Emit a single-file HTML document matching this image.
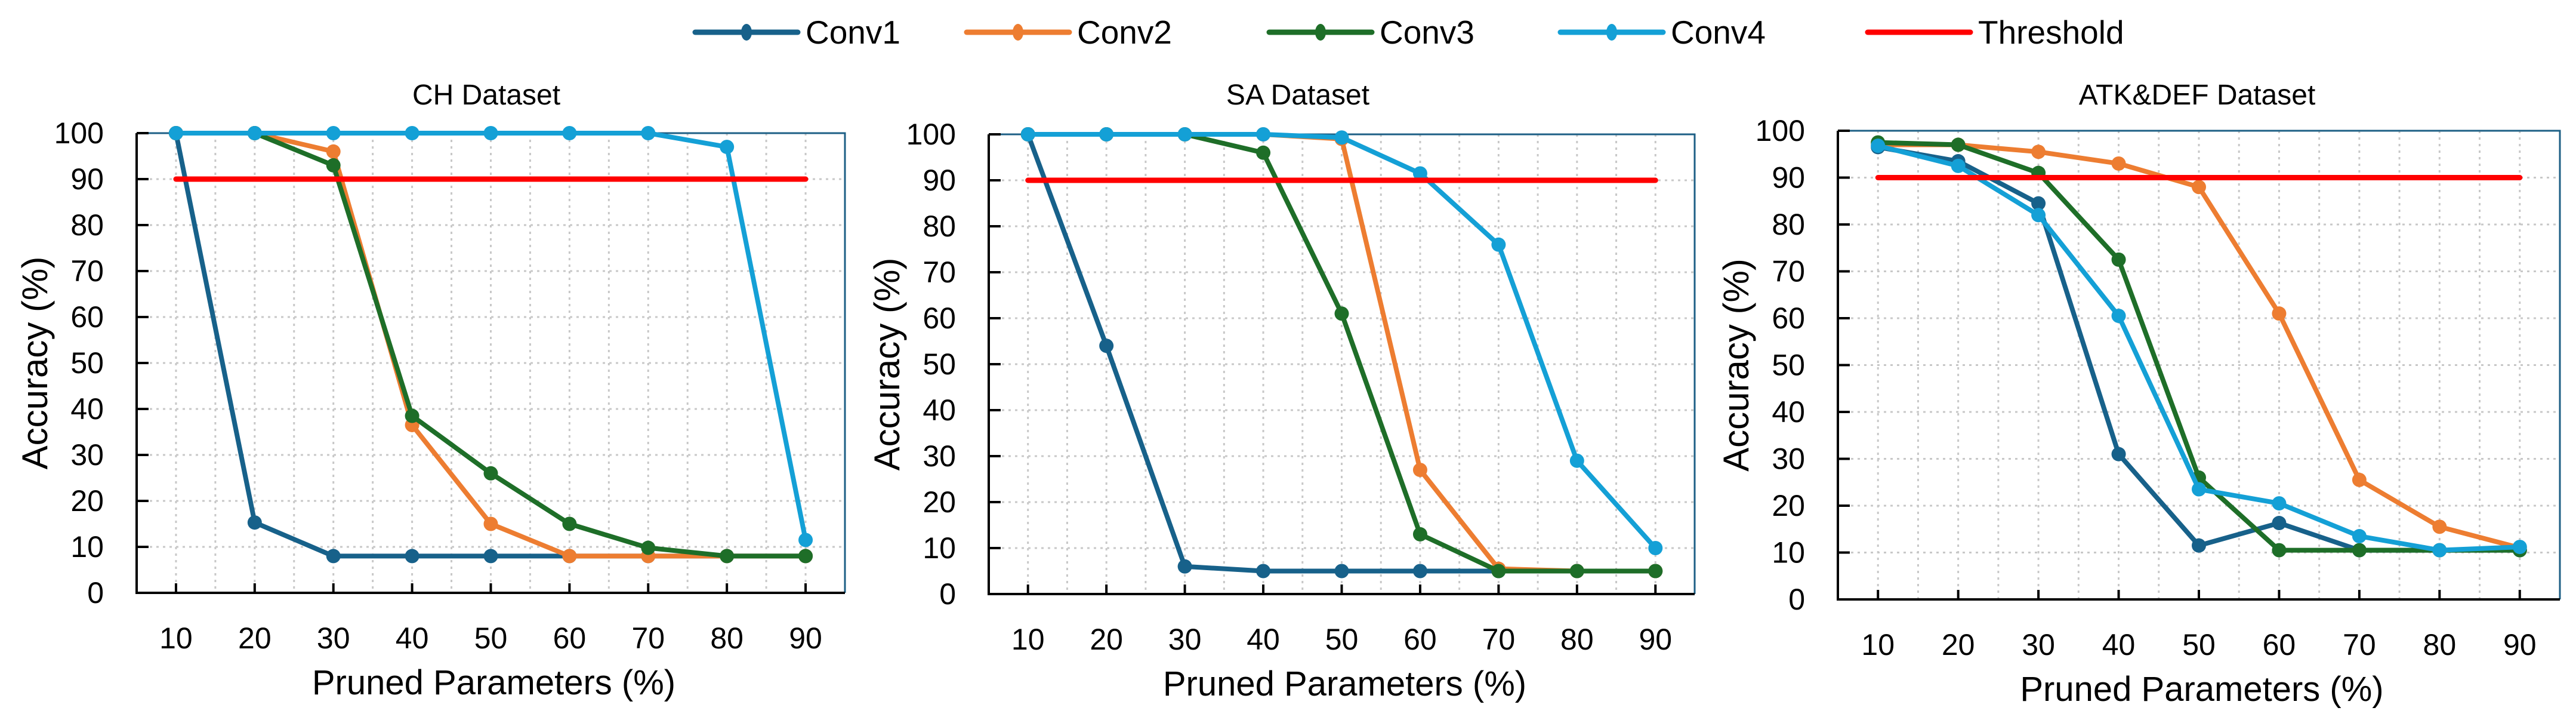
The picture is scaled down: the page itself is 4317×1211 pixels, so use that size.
<!DOCTYPE html>
<html><head><meta charset="utf-8">
<style>
html,body{margin:0;padding:0;background:#fff;}
svg{display:block;font-family:"Liberation Sans",sans-serif;}
</style></head>
<body>
<svg id="chart" width="4317" height="1211" viewBox="0 0 4317 1211" xmlns="http://www.w3.org/2000/svg">
<g id="legend"></g>
<g id="panels"></g>
</svg>
<script>
const xCategories = [10,20,30,40,50,60,70,80,90];
const yTicks = [0,10,20,30,40,50,60,70,80,90,100];
const seriesNames = ["Conv1","Conv2","Conv3","Conv4"];
const thresholdValue = 90;
const chConv1 = [100,15.3,8,8,8,8,8,8,8];
const chConv2 = [100,100,96,36.5,15,8,8,8,8];
const chConv3 = [100,100,93,38.5,26,15,9.8,8,8];
const chConv4 = [100,100,100,100,100,100,100,97,11.5];
const saConv1 = [100,54,6,5,5,5,5,5,5];
const saConv2 = [100,100,100,100,99,27,5.5,5,5];
const saConv3 = [100,100,100,96,61,13,5,5,5];
const saConv4 = [100,100,100,100,99.3,91.5,76,29,10];
const adConv1 = [96.5,93.5,84.5,31,11.5,16.3,10.5,10.5,10.5];
const adConv2 = [97,97,95.5,93,88,61,25.5,15.5,11];
const adConv3 = [97.5,97,91,72.5,26,10.5,10.5,10.5,10.5];
const adConv4 = [96.8,92.5,82,60.5,23.5,20.5,13.5,10.5,11.2];

const NS="http://www.w3.org/2000/svg";
const colors=["#17618a","#ed7d31","#1e6e28","#14a0d6"];
function mk(tag,attrs,parent){const e=document.createElementNS(NS,tag);for(const k in attrs)e.setAttribute(k,attrs[k]);parent.appendChild(e);return e;}

const panels=[
 {title:"CH Dataset",name:"ch",L:229,R:1416,T:223,B:993,data:[chConv1,chConv2,chConv3,chConv4],tx:815},
 {title:"SA Dataset",name:"sa",L:1657,R:2840,T:225,B:995,data:[saConv1,saConv2,saConv3,saConv4],tx:2175},
 {title:"ATK&DEF Dataset",name:"atk-def",L:3080,R:4290,T:219,B:1004,data:[adConv1,adConv2,adConv3,adConv4],tx:3682}
];
const root=document.getElementById('panels');
panels.forEach(p=>{
  const g=mk('g',{},root);
  
  
  const xs=v=>p.L+(v-5)/90*(p.R-p.L);
  const ys=v=>p.B-v/100*(p.B-p.T);
  for(let v=10;v<=90;v+=5){
    const l=mk('line',{x1:xs(v),x2:xs(v),y1:p.T,y2:p.B,stroke:"#c8c8c8","stroke-width":3,"stroke-dasharray":"4 7"},g);
    
    
  }
  yTicks.forEach(v=>{ if(v>0&&v<100){
    const l=mk('line',{x1:p.L,x2:p.R,y1:ys(v),y2:ys(v),stroke:"#c8c8c8","stroke-width":3,"stroke-dasharray":"4 7"},g);
    
    
  }});
  const fr=mk('path',{d:`M${p.L} ${p.T} H${p.R} V${p.B}`,fill:"none",stroke:"#1d5f85","stroke-width":3},g);
  
  
  const ax=mk('path',{d:`M${p.L} ${p.T} V${p.B} H${p.R}`,fill:"none",stroke:"#000","stroke-width":4},g);
  
  
  yTicks.forEach(v=>{
    const t=mk('line',{x1:p.L,x2:p.L+20,y1:ys(v),y2:ys(v),stroke:"#000","stroke-width":4},g);
    
    
    const tl=mk('text',{x:p.L-55,y:ys(v)+17,"text-anchor":"end","font-size":50},g);
    tl.textContent=v;
    
    
  });
  xCategories.forEach(v=>{
    const t=mk('line',{x1:xs(v),x2:xs(v),y1:p.B,y2:p.B-16,stroke:"#000","stroke-width":4},g);
    
    
    const tl=mk('text',{x:xs(v),y:p.B+93,"text-anchor":"middle","font-size":50},g);
    tl.textContent=v;
    
    
  });
  const tt=mk('text',{x:p.tx,y:175,"text-anchor":"middle","font-size":48},g);
  tt.textContent=p.title;
  
  
  const xt=mk('text',{x:(p.L+p.R)/2+5,y:p.B+170,"text-anchor":"middle","font-size":58},g);
  xt.textContent="Pruned Parameters (%)";
  
  
  const cy=(p.T+p.B)/2;
  const yt=mk('text',{x:0,y:0,"text-anchor":"middle","font-size":60,transform:`translate(${p.L-150},${cy}) rotate(-90)`},g);
  yt.textContent="Accuracy (%)";
  
  
  p.data.forEach((arr,si)=>{
    const sg=mk('g',{},g);
    
    
    const pts=arr.map((v,i)=>xs(xCategories[i])+","+ys(v)).join(" ");
    const pl=mk('polyline',{points:pts,fill:"none",stroke:colors[si],"stroke-width":8,"stroke-linejoin":"round"},sg);
    
    
    arr.forEach((v,i)=>{
      const c=mk('circle',{cx:xs(xCategories[i]),cy:ys(v),r:12,fill:colors[si]},sg);
      
      
    });
  });
  const th=mk('line',{x1:xs(10),x2:xs(90),y1:ys(thresholdValue),y2:ys(thresholdValue),stroke:"#ff0000","stroke-width":9,"stroke-linecap":"round"},g);
  
  
});
const lg=document.getElementById('legend');
const legendItems=[["Conv1",colors[0],1165,true],["Conv2",colors[1],1620,true],["Conv3",colors[2],2127,true],["Conv4",colors[3],2615,true],["Threshold","#ff0000",3130,false]];
legendItems.forEach(it=>{
  const g=mk('g',{},lg);
  
  
  const l=mk('line',{x1:it[2],x2:it[2]+172,y1:54,y2:54,stroke:it[1],"stroke-width":9,"stroke-linecap":"round"},g);
  
  
  if(it[3]){
    const c=mk('ellipse',{cx:it[2]+86,cy:54,rx:9,ry:14,fill:it[1]},g);
    
    
  }
  const t=mk('text',{x:it[2]+185,y:73,"font-size":55},g);
  t.textContent=it[0];
  
  
});
</script>
</body></html>
